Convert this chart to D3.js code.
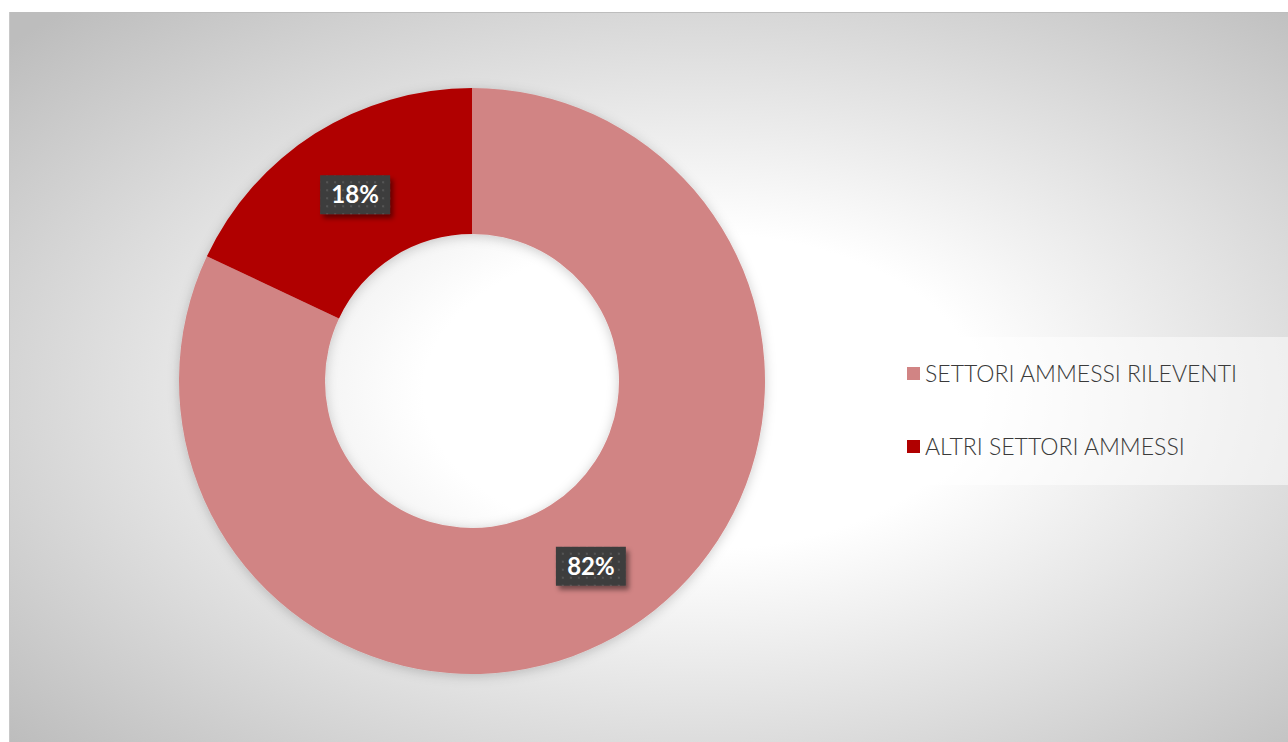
<!DOCTYPE html>
<html>
<head>
<meta charset="utf-8">
<script src="https://cdn.jsdelivr.net/npm/d3@7"></script>
<style>
  body { margin: 0; background: #ffffff; }
  svg { display: block; }
</style>
</head>
<body>
<div id="chart"></div>
<script>
var width = 1288, height = 742;

var categories = ["SETTORI AMMESSI RILEVENTI", "ALTRI SETTORI AMMESSI"];
var values = [82, 18];
var colors = ["#d18484", "#b00000"];

var cx = 472, cy = 381, outerR = 293, innerR = 147;

var svg = d3.select("#chart").append("svg")
    .attr("width", width)
    .attr("height", height);

var defs = svg.append("defs");

// background gradient, white in the middle of the chart area
var bg = defs.append("radialGradient")
    .attr("id", "bg")
    .attr("cx", 0.54).attr("cy", 0.52).attr("r", 0.72);
bg.append("stop").attr("offset", "0%").attr("stop-color", "#ffffff");
bg.append("stop").attr("offset", "30%").attr("stop-color", "#ffffff");
bg.append("stop").attr("offset", "100%").attr("stop-color", "#bdbdbd");

var shadow = defs.append("filter").attr("id", "shadow")
    .attr("x", "-20%").attr("y", "-20%").attr("width", "140%").attr("height", "140%");
shadow.append("feDropShadow")
    .attr("dx", 0).attr("dy", 2).attr("stdDeviation", 6)
    .attr("flood-color", "#000").attr("flood-opacity", 0.2);

var boxShadow = defs.append("filter").attr("id", "boxShadow")
    .attr("x", "-30%").attr("y", "-30%").attr("width", "160%").attr("height", "180%");
boxShadow.append("feDropShadow")
    .attr("dx", 3).attr("dy", 4).attr("stdDeviation", 2.5)
    .attr("flood-color", "#000").attr("flood-opacity", 0.45);

var dots = defs.append("pattern").attr("id", "dots")
    .attr("patternUnits", "userSpaceOnUse")
    .attr("width", 8).attr("height", 8);
dots.append("rect").attr("width", 8).attr("height", 8).attr("fill", "#3e3e3e");
dots.append("rect").attr("x", 3).attr("y", 3).attr("width", 2).attr("height", 2).attr("fill", "#555555");

// chart area
svg.append("rect")
    .attr("x", 9).attr("y", 12)
    .attr("width", width - 9).attr("height", height - 12)
    .attr("fill", "url(#bg)");
svg.append("line")
    .attr("x1", 9).attr("x2", width).attr("y1", 12.5).attr("y2", 12.5)
    .attr("stroke", "#bdbdbd");
svg.append("line")
    .attr("x1", 9.5).attr("x2", 9.5).attr("y1", 12).attr("y2", height)
    .attr("stroke", "#c8c8c8");

var pie = d3.pie().sort(null).value(function(d) { return d; });
var arc = d3.arc().innerRadius(innerR).outerRadius(outerR);

var g = svg.append("g")
    .attr("transform", "translate(" + cx + "," + cy + ")");

var arcs = pie(values);

g.append("g")
    .attr("filter", "url(#shadow)")
    .selectAll("path")
    .data(arcs)
    .enter().append("path")
    .attr("d", arc)
    .attr("fill", function(d, i) { return colors[i]; });

// data labels
var labels = g.selectAll(".lbl")
    .data(arcs)
    .enter().append("g")
    .attr("class", "lbl")
    .attr("transform", function(d) {
        var c = arc.centroid(d);
        return "translate(" + (c[0] + 1) + "," + (c[1] - 1) + ")";
    });

labels.append("rect")
    .attr("x", -35).attr("y", -19)
    .attr("width", 70).attr("height", 39)
    .attr("fill", "url(#dots)")
    .attr("filter", "url(#boxShadow)");

labels.append("text")
    .attr("text-anchor", "middle")
    .attr("dy", "0.37em")
    .attr("fill", "#ffffff")
    .style("font-family", "Lato, 'Open Sans', sans-serif")
    .style("font-weight", "bold")
    .style("font-size", "24px")
    .text(function(d) { return d.data + "%"; });

// legend
svg.append("rect")
    .attr("x", 853).attr("y", 337)
    .attr("width", width - 853).attr("height", 148)
    .attr("fill", "#ffffff").attr("fill-opacity", 0.5);

var legend = svg.selectAll(".legend")
    .data(categories)
    .enter().append("g")
    .attr("class", "legend")
    .attr("transform", function(d, i) { return "translate(907," + (374 + i * 73) + ")"; });

legend.append("rect")
    .attr("x", 0).attr("y", -7)
    .attr("width", 13).attr("height", 13)
    .attr("fill", function(d, i) { return colors[i]; });

legend.append("text")
    .attr("x", 18)
    .attr("dy", "0.36em")
    .attr("fill", "#3a3a3a")
    .style("font-family", "Lato, 'Open Sans', sans-serif")
    .style("font-weight", 300)
    .style("font-size", "23px")
    .text(function(d) { return d; });
</script>
</body>
</html>
